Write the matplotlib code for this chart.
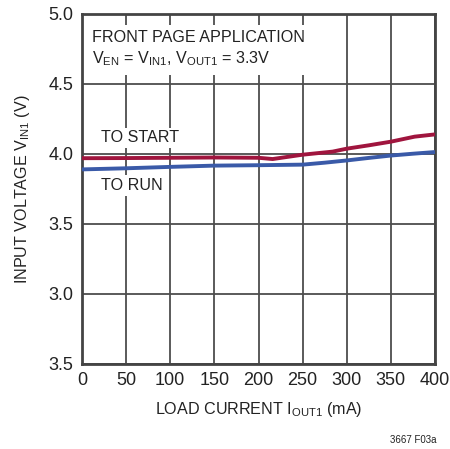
import matplotlib
matplotlib.use("Agg")
import matplotlib.pyplot as plt
from matplotlib import font_manager

names = {f.name for f in font_manager.fontManager.ttflist}
FONT = "Liberation Sans Narrow" if "Liberation Sans Narrow" in names else "Liberation Sans"
NARROW = FONT == "Liberation Sans Narrow"
plt.rcParams['font.family'] = [FONT, 'DejaVu Sans']
plt.rcParams['mathtext.fontset'] = 'custom'
plt.rcParams['mathtext.rm'] = FONT
plt.rcParams['mathtext.it'] = FONT
plt.rcParams['mathtext.bf'] = FONT

# Data
start_x = [0, 50, 100, 150, 200, 216, 250, 284, 300, 325, 350, 377, 400]
start_y = [3.970, 3.971, 3.973, 3.975, 3.973, 3.964, 3.995, 4.017, 4.038, 4.062, 4.088, 4.124, 4.140]
run_x = [0, 50, 100, 150, 200, 250, 275, 300, 325, 350, 375, 400]
run_y = [3.890, 3.898, 3.908, 3.917, 3.920, 3.924, 3.938, 3.954, 3.972, 3.989, 4.002, 4.014]

x_ticks = [0, 50, 100, 150, 200, 250, 300, 350, 400]
y_ticks = [2.5, 3.0, 3.5, 4.0, 4.5, 5.0]
y_ticklabels = ["3.5", "3.0", "3.5", "4.0", "4.5", "5.0"]

TS = 14 if NARROW else 13     # tick labels
LS = 14 if NARROW else 11.6   # other text

fig = plt.figure(figsize=(4.5, 4.49), dpi=100)
ax = fig.add_axes([82/450, 1-364/449, (435-82)/450, (364-14)/449])

GRID = "#4d4d4d"
INK = "#222222"
ax.set_xlim(0, 400)
ax.set_ylim(2.5, 5.0)
ax.set_xticks(x_ticks)
ax.set_yticks(y_ticks)
ax.set_yticklabels(y_ticklabels)
ax.tick_params(length=0, labelsize=TS, pad=6, colors=INK)
ax.grid(True, color=GRID, linewidth=1.3, zorder=0)
ax.set_axisbelow(True)
for s in ax.spines.values():
    s.set_color("#444444")
    s.set_linewidth(2)

ax.plot(start_x, start_y, color="#a0153e", linewidth=2.8, zorder=3, solid_capstyle="butt")
ax.plot(run_x, run_y, color="#3a5aa8", linewidth=2.8, zorder=3, solid_capstyle="butt")

bb = dict(facecolor="white", edgecolor="none", pad=2)
ax.text(0.027, 0.955,
        "FRONT PAGE APPLICATION\n"
        r"$\mathregular{V_{EN}}$ = $\mathregular{V_{IN1}}$, $\mathregular{V_{OUT1}}$ = 3.3V",
        transform=ax.transAxes, ha="left", va="top", fontsize=LS, color=INK,
        linespacing=1.35, zorder=4,
        bbox=dict(facecolor="white", edgecolor="none", pad=5))
ax.text(21, 4.115, "TO START", ha="left", va="center", fontsize=LS, color=INK,
        zorder=4, bbox=bb)
ax.text(21, 3.775, "TO RUN", ha="left", va="center", fontsize=LS, color=INK,
        zorder=4, bbox=bb)

ax.set_xlabel(r"LOAD CURRENT $\mathregular{I_{OUT1}}$ (mA)", fontsize=LS, color=INK, labelpad=8)
ax.set_ylabel(r"INPUT VOLTAGE $\mathregular{V_{IN1}}$ (V)", fontsize=LS, color=INK, labelpad=12)

fig.text(413/450, 1-440/449, "3667 F03a", fontsize=7, ha="center", va="center", color=INK)

fig.savefig("out.png", dpi=100)
